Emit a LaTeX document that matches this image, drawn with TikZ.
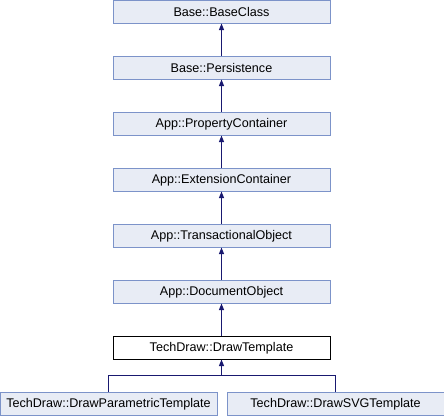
\documentclass[tikz,border=0pt]{standalone}
\usepackage{fontspec}
\setmainfont{Liberation Sans}
\usetikzlibrary{arrows.meta}
\definecolor{boxfill}{HTML}{E8ECF5}
\definecolor{boxline}{HTML}{7C93C9}
\definecolor{arrowc}{HTML}{191970}
\tikzset{
  cls/.style={draw=boxline, fill=boxfill, line width=1pt, minimum width=217pt, minimum height=22.5pt, inner sep=0pt, font=\fontsize{12.6}{14}\selectfont},
  curcls/.style={cls, draw=black, fill=white},
  inh/.style={draw=arrowc, line width=1.1pt, -{Triangle[length=6.5pt,width=5pt]}},
  link/.style={draw=arrowc, line width=1.1pt, line join=miter}
}
\begin{document}
\begin{tikzpicture}[x=1pt,y=-1pt]
\useasboundingbox (0,0) rectangle (444,416);
\node[cls] (a) at (221.5,11.75) {Base::BaseClass};
\node[cls] (b) at (221.5,67.75) {Base::Persistence};
\node[cls] (c) at (221.5,123.75) {App::PropertyContainer};
\node[cls] (d) at (221.5,179.75) {App::ExtensionContainer};
\node[cls] (e) at (221.5,235.75) {App::TransactionalObject};
\node[cls] (f) at (221.5,291.75) {App::DocumentObject};
\node[curcls] (g) at (221.5,347.75) {TechDraw::DrawTemplate};
\node[cls] (h) at (108.5,403.75) {TechDraw::DrawParametricTemplate};
\node[cls] (i) at (335.5,403.75) {TechDraw::DrawSVGTemplate};
\draw[inh] (b.north) -- (a.south);
\draw[inh] (c.north) -- (b.south);
\draw[inh] (d.north) -- (c.south);
\draw[inh] (e.north) -- (d.south);
\draw[inh] (f.north) -- (e.south);
\draw[inh] (g.north) -- (f.south);
\coordinate (j) at (221.5,375.5);
\draw[link] (h.north) |- (j) -| (i.north);
\draw[inh] (j) -- (g.south);
\end{tikzpicture}
\end{document}
